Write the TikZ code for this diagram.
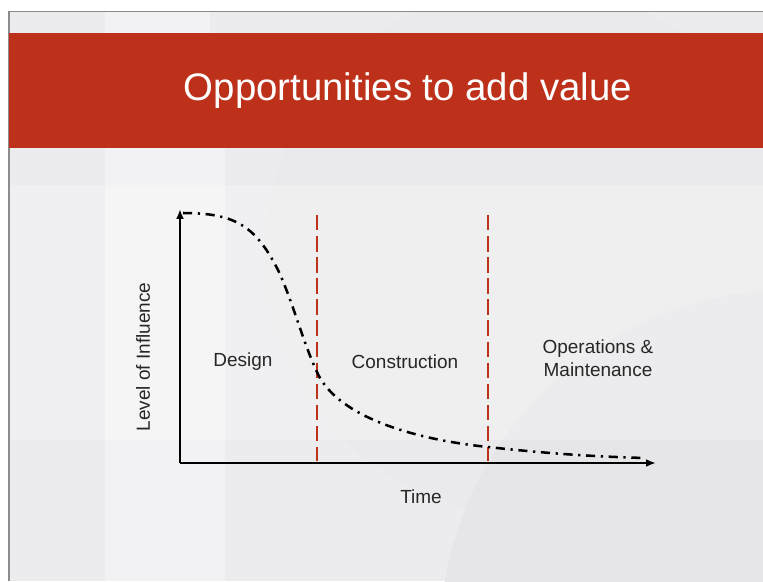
\documentclass[tikz,border=0pt]{standalone}
\usepackage{fontspec}
\setmainfont{Liberation Sans}
\usetikzlibrary{positioning}
\usetikzlibrary{arrows.meta}
\definecolor{bandred}{HTML}{BD301A}
\definecolor{slidegray}{HTML}{ECECEE}
\definecolor{slidelight}{HTML}{F2F2F4}
\definecolor{slidedark}{HTML}{E6E6E9}
\definecolor{framegray}{HTML}{8C8C8C}

\begin{document}
\begin{tikzpicture}[x=0.025cm, y=-0.025cm,
		axis/.style={line width=1.9pt, -{Latex[length=7pt, width=5.5pt]}},
		divider/.style={draw=bandred, line width=1.5pt, dash pattern=on 11pt off 4pt},
		influence/.style={line width=1.8pt, dash pattern=on 6.5pt off 4pt on 1.6pt off 4pt},
		phase/.style={font=\fontsize{13.5pt}{16pt}\selectfont, text=black!85, align=center},
	]
		\useasboundingbox (0,0) rectangle (763,581);
		% slide background
		\fill[white] (0,0) rectangle (763,581);
		\fill[slidegray] (9,12) rectangle (763,581);
		\fill[slidelight] (105,12) rectangle (210,33);
		\fill[slidelight] (105,148) rectangle (225,581);
		\begin{scope}
			\clip (9,12) rectangle (763,581);
			\fill[slidegray!60!slidedark] (530,250) circle (265);
			\fill[slidedark] (790,640) circle (350);
		\end{scope}
		\fill[white, opacity=0.25] (9,185) rectangle (763,440);
		\draw[framegray, line width=0.8pt] (9,581) -- (9,11.5) -- (763,11.5);
		
		% title band
		\fill[bandred] (9,33) rectangle (763,148);
		\node[text=white, font=\fontsize{27.3pt}{32pt}\selectfont] (title) at (408,91) {Opportunities to add value};
		
		% axes
		\coordinate (origin) at (180,463);
		\coordinate (ytop) at (180,209);
		\coordinate (xend) at (656,463);
		\draw[axis] (origin) -- (ytop);
		\draw[axis] (origin) -- (xend);
		
		% phase boundaries
		\coordinate (d1top) at (317,215);
		\coordinate (d1bot) at (317,461);
		\coordinate (d2top) at (488,215);
		\coordinate (d2bot) at (488,461);
		\draw[divider] (d1top) -- (d1bot);
		\draw[divider] (d2top) -- (d2bot);
		
		% level of influence curve
		\draw[influence] (183,213) .. controls (235,213) and (255,226) .. (277,268)
			.. controls (292,298) and (305,350) .. (320,378)
			.. controls (345,420) and (420,440) .. (488,447)
			.. controls (560,455) and (610,457) .. (645,458);
		
		% labels
		\node[phase] (design) at (243,362) {Design};
		\node[phase] (construction) at (405,362) {Construction};
		\node[phase] (operations) at (598,358) {Operations \&\\Maintenance};
		\node[phase] (time) at (421,497) {Time};
		\node[phase, rotate=90] (level) at (143,357) {Level of Influence};
	\end{tikzpicture}
\end{document}
